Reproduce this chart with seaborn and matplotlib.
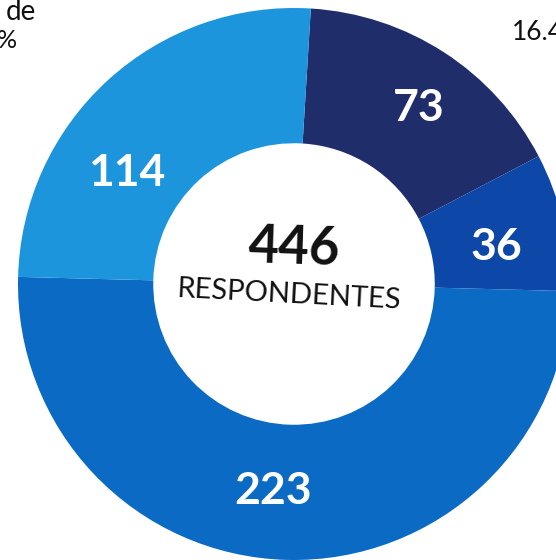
import matplotlib
matplotlib.use("Agg")
import matplotlib.pyplot as plt
import seaborn as sns

# counts of respondents per group (clockwise from top)
counts = [73, 36, 223, 114]
labels = ["73", "36", "223", "114"]
colors = ["#1f2d6b", "#0d47a8", "#0a6ac4", "#1c95dd"]
total_value = "446"
total_label = "RESPONDENTES"

sns.set_theme(style="white")
plt.rcParams["font.family"] = ["Lato", "DejaVu Sans"]

fig = plt.figure(figsize=(5.56, 5.60), dpi=100)
ax = fig.add_axes([0, 0, 1, 1])

# ring, slightly rotated like the scanned page
wedges, texts = ax.pie(
    counts,
    colors=colors,
    startangle=86.5,
    counterclock=False,
    radius=1.0,
    labels=labels,
    labeldistance=0.75,
    wedgeprops=dict(width=0.49, linewidth=0),
    textprops=dict(color="white", fontsize=32, fontweight="bold"),
)

# labels in the original sit a bit off the wedge middles
nudges = [(-0.05, 0.01), (-0.09, -0.035), (0.085, 0.0), (0.04, -0.15)]
for t, (dx, dy) in zip(texts, nudges):
    x, y = t.get_position()
    t.set_position((x + dx, y + dy))

ax.text(0.0, 0.13, total_value, ha="center", va="center", fontsize=38,
        fontweight="bold", color="#111111", rotation=-2)
ax.text(-0.02, -0.04, total_label, ha="center", va="center", fontsize=21,
        color="#111111", rotation=-3)

# fragments of the surrounding page text
fig.text(36 / 556, 1 - 12 / 560, "de", ha="right", va="center", fontsize=20,
         color="#111111")
fig.text(17 / 556, 1 - 40 / 560, "%", ha="right", va="center", fontsize=18,
         color="#111111")
fig.text(512 / 556, 1 - 33 / 560, "16.4%", ha="left", va="center", fontsize=19,
         color="#111111")

# centre of ring at (294, 284) px, radius 276 px
ax.set_xlim(-294 / 276, (556 - 294) / 276)
ax.set_ylim(-(560 - 284) / 276, 284 / 276)
ax.set_aspect("equal")
ax.axis("off")

fig.savefig("out.png", dpi=100)
